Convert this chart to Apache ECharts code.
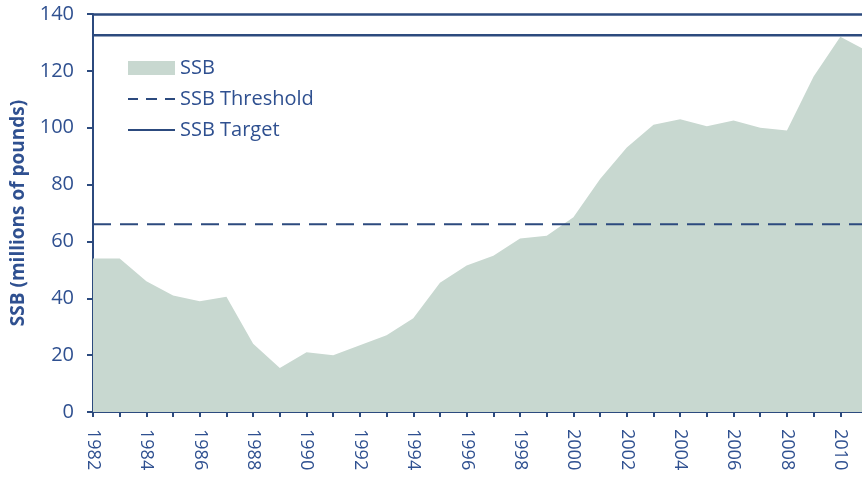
<!DOCTYPE html>
<html><head><meta charset="utf-8">
<script src="https://cdn.jsdelivr.net/npm/echarts@6/dist/echarts.min.js"></script>
<style>html,body{margin:0;padding:0;background:#fff}#c{width:862px;height:478px}</style>
</head><body><div id="c"></div>
<script>
const years = ['1982','1983','1984','1985','1986','1987','1988','1989','1990','1991','1992','1993','1994','1995','1996','1997','1998','1999','2000','2001','2002','2003','2004','2005','2006','2007','2008','2009','2010','2011'];
const ssb = [54,54,46,41,39,40.5,24,15.5,21,20,23.5,27,33,45.5,51.5,55,61,62,68.5,82,93,101,103,100.5,102.5,100,99,118,132,127];
const ssbThreshold = 66;
const ssbTarget = 132.5;
const yTicks = [0,20,40,60,80,100,120,140];

const navy = '#2c4a7e';
const txt = '#2f5090';
const font = 'Open Sans';
const chart = echarts.init(document.getElementById('c'));
chart.setOption({
  animation:false,
  grid:{left:93,right:-5,top:14,bottom:66,outerBoundsMode:'none',containLabel:false},
  legend:{
    orient:'vertical', left:123, top:53, itemGap:11, itemWidth:47, itemHeight:14, itemTextGap:10,
    symbolKeepAspect:true,
    textStyle:{color:txt,fontSize:20,fontFamily:font},
    data:[
      {name:'SSB',icon:'rect'},
      {name:'SSB Threshold',icon:'path://M0,0H10V2H0Z M18,0H29V2H18Z M37,0H47V2H37Z'},
      {name:'SSB Target',icon:'path://M0,0H47V2H0Z'}
    ]
  },
  xAxis:[{
    type:'category', data:years, boundaryGap:false,
    axisLine:{lineStyle:{color:navy,width:2}},
    axisTick:{show:true,interval:0,length:5,lineStyle:{color:navy,width:2}},
    axisLabel:{interval:1,rotate:-90,color:txt,fontSize:18,fontFamily:font,margin:17}
  },{
    type:'category', data:years, boundaryGap:false, position:'top',
    axisLine:{lineStyle:{color:navy,width:2.5}}, axisTick:{show:false}, axisLabel:{show:false}
  }],
  yAxis:{
    type:'value', min:0, max:140, interval:20,
    name:'SSB (millions of pounds)', nameLocation:'middle', nameGap:65,
    nameTextStyle:{color:txt,fontSize:19,fontWeight:'bold',fontFamily:font},
    axisLine:{show:true,lineStyle:{color:navy,width:2}},
    axisTick:{show:true,length:6,lineStyle:{color:navy,width:2}},
    axisLabel:{color:txt,fontSize:20,fontFamily:font,margin:19,formatter:v=>yTicks.includes(v)?String(v):''},
    splitLine:{show:false}
  },
  series:[
    {name:'SSB',type:'line',data:ssb,symbol:'none',lineStyle:{width:0},
     itemStyle:{color:'#c8d8d0'},areaStyle:{color:'#c8d8d0',opacity:1},z:1},
    {name:'SSB Threshold',type:'line',data:years.map(()=>ssbThreshold),symbol:'none',
     itemStyle:{color:navy},lineStyle:{color:navy,width:2,type:[18,9]},z:3},
    {name:'SSB Target',type:'line',data:years.map(()=>ssbTarget),symbol:'none',
     itemStyle:{color:navy},lineStyle:{color:navy,width:2.5},z:3}
  ]
});
</script></body></html>
